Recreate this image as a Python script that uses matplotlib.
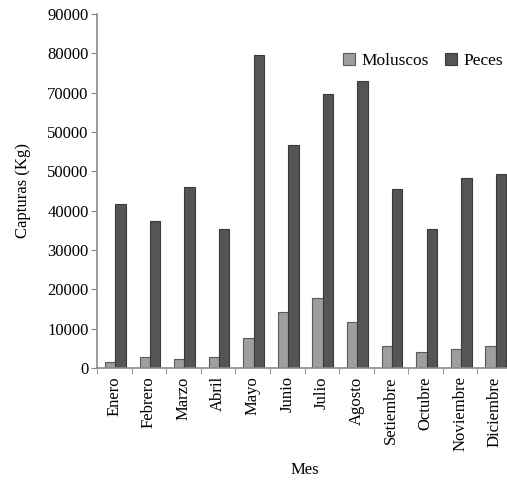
import numpy as np
import matplotlib
matplotlib.use("Agg")
import matplotlib.pyplot as plt
from matplotlib.ticker import FixedLocator, NullFormatter

plt.rcParams["font.family"] = ["Liberation Serif", "DejaVu Serif"]

meses = ["Enero", "Febrero", "Marzo", "Abril", "Mayo", "Junio", "Julio",
         "Agosto", "Setiembre", "Octubre", "Noviembre", "Diciembre"]
moluscos = [1500, 2800, 2200, 2800, 7600, 14300, 17700, 11600, 5600, 4100, 4900, 5600]
peces = [41800, 37300, 46000, 35300, 79500, 56800, 69700, 72900, 45400, 35300, 48200, 49400]
ytick_vals = [0, 10000, 20000, 30000, 40000, 50000, 60000, 70000, 80000, 90000]
ytick_text = ["0", "10000", "20000", "30000", "40000", "50000", "50000", "70000", "80000", "90000"]

fig = plt.figure(figsize=(5.07, 4.80), dpi=100)
ax = fig.add_axes([97 / 507, 112 / 480, 415 / 507, 354 / 480])

x = np.arange(len(meses))
w = 0.30
ax.bar(x - 0.12, moluscos, width=w, color="#9e9e9e", edgecolor="#5a5a5a",
       linewidth=0.8, label="Moluscos")
ax.bar(x + 0.18, peces, width=w, color="#555555", edgecolor="#3a3a3a",
       linewidth=0.8, label="Peces")

ax.set_xlim(-0.5, len(meses) - 0.5)
ax.set_ylim(0, 90000)

ax.set_xticks(x)
ax.set_xticklabels(meses, rotation=90, fontsize=12)
ax.tick_params(axis="x", which="major", length=0, pad=6)
ax.xaxis.set_minor_locator(FixedLocator(np.arange(-0.5, len(meses), 1.0)))
ax.xaxis.set_minor_formatter(NullFormatter())
ax.tick_params(axis="x", which="minor", length=4, color="#888888", direction="out")

ax.set_yticks(ytick_vals)
ax.set_yticklabels(ytick_text, fontsize=12)
ax.tick_params(axis="y", length=4, color="#888888", direction="out", pad=2)

for side in ("top", "right"):
    ax.spines[side].set_visible(False)
for side in ("left", "bottom"):
    ax.spines[side].set_color("#8a8a8a")
    ax.spines[side].set_linewidth(1.2)

ax.set_ylabel("Capturas (Kg)", fontsize=12, labelpad=12)
ax.set_xlabel("Mes", fontsize=12, labelpad=8)

ax.legend(loc="upper left", bbox_to_anchor=(0.575, 0.91), frameon=False,
          ncol=2, fontsize=12.5, handlelength=0.7, handleheight=0.7,
          handletextpad=0.4, columnspacing=0.9, borderaxespad=0)

fig.savefig("out.png", dpi=100)
